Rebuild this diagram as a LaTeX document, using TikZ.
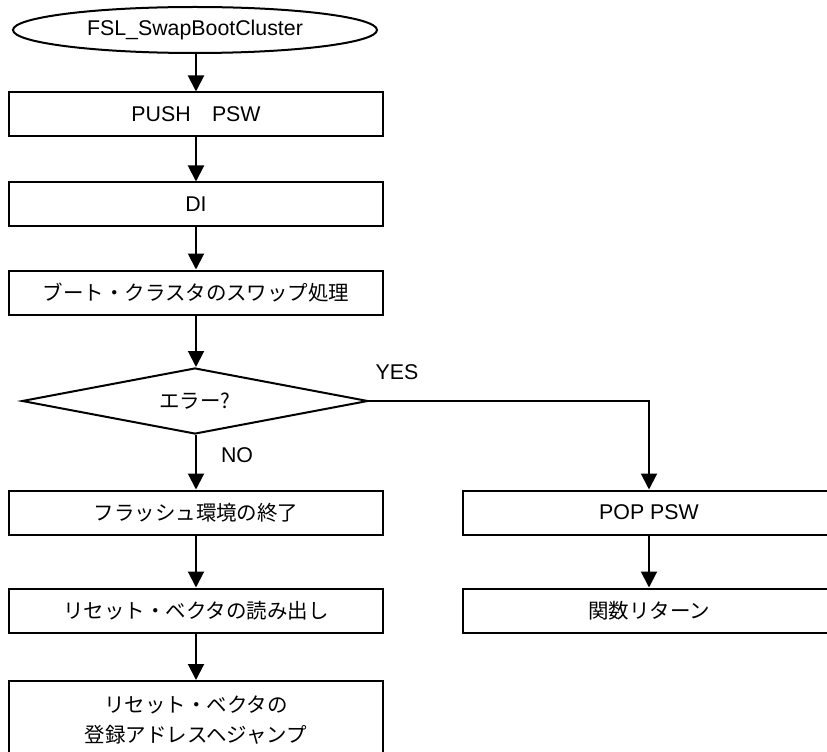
\documentclass[tikz,border=0pt]{standalone}
\usepackage{fontspec}
\setmainfont{Liberation Sans}
\newfontfamily\jp{Noto Sans CJK JP}[Scale=0.96]
\usetikzlibrary{shapes.geometric,arrows.meta}
\begin{document}
\begin{tikzpicture}[x=0.75pt,y=-0.75pt,
  every node/.style={font=\fontsize{16}{22}\selectfont},
  box/.style={draw,line width=1.5pt,minimum width=280.5pt,minimum height=33pt,inner sep=0pt,align=center},
  rbox/.style={box,minimum width=279pt},
  term/.style={draw,ellipse,line width=1.5pt,minimum width=273pt,minimum height=34.5pt,inner sep=0pt},
  dec/.style={draw,diamond,line width=1.5pt,minimum width=259.5pt,minimum height=49.5pt,inner sep=0pt,aspect=5.2},
  arr/.style={line width=1.5pt,-{Triangle[length=12pt,width=12pt]}},
  lbl/.style={inner sep=0pt}]
\useasboundingbox (0,0) rectangle (827,752);
\clip (0,0) rectangle (827,752);
\node[term] (start) at (195,30) {FSL\_SwapBootCluster};
\node[box] (push) at (196,114.5) {PUSH\hspace{1em}PSW};
\node[box] (di) at (196,204.5) {DI};
\node[box] (swap) at (196,292.5) {\jp ブート・クラスタのスワップ処理};
\node[dec] (err) at (195,401) {\jp エラー?};
\node[box] (flash) at (196,512.5) {\jp フラッシュ環境の終了};
\node[box] (read) at (196,610.5) {\jp リセット・ベクタの読み出し};
\node[box,minimum height=58.5pt] (jump) at (196,720) {\jp リセット・ベクタの\\\jp 登録アドレスヘジャンプ};
\node[rbox] (pop) at (649,512.5) {POP PSW};
\node[rbox] (ret) at (649,610.5) {\jp 関数リターン};
\node[lbl] (yes) at (397,372) {YES};
\node[lbl] (no) at (237,455) {NO};
\draw[arr] (start.south -| push.north) -- (push);
\draw[arr] (push) -- (di);
\draw[arr] (di) -- (swap);
\draw[arr] (swap) -- (err.north -| swap.south);
\draw[arr] (err.south -| flash.north) -- (flash);
\draw[arr] (err.east) -| (pop.north);
\draw[arr] (flash) -- (read);
\draw[arr] (read) -- (jump);
\draw[arr] (pop) -- (ret);
\end{tikzpicture}
\end{document}
